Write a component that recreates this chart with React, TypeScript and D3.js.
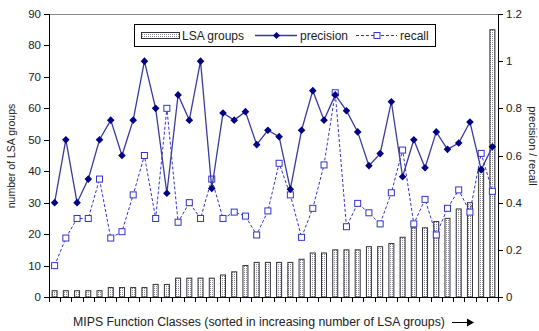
import * as d3 from "d3";

// 40 MIPS function classes, sorted by number of LSA groups
const classes = d3.range(1, 41).map((d) => "C" + d);

const lsaGroups = [2, 2, 2, 2, 2, 3, 3, 3, 3, 4, 4, 6, 6, 6, 6, 7, 8, 10, 11, 11,
  11, 11, 12, 14, 14, 15, 15, 15, 16, 16, 17, 19, 22, 22, 24, 25, 28, 30, 41, 85];

const precision = [0.4, 0.667, 0.4, 0.5, 0.667, 0.75, 0.6, 0.75, 1.0, 0.8,
  0.44, 0.857, 0.75, 1.0, 0.46, 0.78, 0.75, 0.786, 0.646, 0.707,
  0.68, 0.457, 0.707, 0.875, 0.75, 0.857, 0.79, 0.7, 0.557, 0.608,
  0.828, 0.51, 0.667, 0.548, 0.7, 0.626, 0.653, 0.742, 0.54, 0.637];

const recall = [0.133, 0.25, 0.333, 0.333, 0.5, 0.25, 0.277, 0.433, 0.6, 0.333,
  0.8, 0.317, 0.4, 0.333, 0.5, 0.333, 0.36, 0.343, 0.263, 0.365,
  0.567, 0.433, 0.253, 0.376, 0.56, 0.866, 0.298, 0.397, 0.357, 0.31,
  0.442, 0.623, 0.31, 0.414, 0.263, 0.376, 0.454, 0.36, 0.609, 0.448];

const leftTicks = [0, 10, 20, 30, 40, 50, 60, 70, 80, 90];
const rightTicks = [0, 0.2, 0.4, 0.6, 0.8, 1, 1.2];

const W = 539, H = 331;
const L = 49, R = 498, T = 14, B = 297;
const font = "Liberation Sans, Arial, sans-serif";
const navy = "#000080";
const lineCol = "#3a3aa0";
const recCol = "#3333cc";

const App = () => {
  const x = d3.scaleBand<string>().domain(classes).range([L, R]).padding(0);
  const yL = d3.scaleLinear().domain([0, 90]).range([B, T]);
  const yR = d3.scaleLinear().domain([0, 1.2]).range([B, T]);
  const cx = (i: number) => (x(classes[i]) as number) + x.bandwidth() / 2;
  const bw = 5;

  const precLine = d3.line<number>().x((d, i) => cx(i)).y((d) => yR(d))(precision) || "";
  const recLine = d3.line<number>().x((d, i) => cx(i)).y((d) => yR(d))(recall) || "";
  const diamond = (px: number, py: number, s = 3.8) =>
    `M${px},${py - s}L${px + s},${py}L${px},${py + s}L${px - s},${py}Z`;

  return (
    <svg width={W} height={H} style={{ position: "absolute", left: 0, top: 0, background: "#fff" }}
      fontFamily={font}>
      <defs>
        <pattern id="dots" width="2" height="2" patternUnits="userSpaceOnUse">
          <rect width="2" height="2" fill="#fff" />
          <rect width="1" height="1" fill="#8a8a9a" />
        </pattern>
      </defs>

      {/* plot frame top */}
      <line x1={L} x2={R} y1={T + 0.5} y2={T + 0.5} stroke="#888" />

      {/* bars */}
      {lsaGroups.map((v, i) => (
        <rect key={"b" + i} x={cx(i) - bw / 2} y={yL(v)} width={bw} height={B - yL(v)}
          fill="url(#dots)" stroke="#333" strokeWidth={1} />
      ))}

      {/* left axis */}
      <line x1={L + 0.5} x2={L + 0.5} y1={T} y2={B} stroke="#000" />
      {leftTicks.map((t) => (
        <g key={"l" + t}>
          <line x1={L - 5} x2={L} y1={Math.round(yL(t)) + 0.5} y2={Math.round(yL(t)) + 0.5} stroke="#000" />
          <text x={L - 8} y={yL(t) + 4} textAnchor="end" fontSize={11.5} fill="#222">{t}</text>
        </g>
      ))}

      {/* right axis */}
      <line x1={R + 0.5} x2={R + 0.5} y1={T} y2={B} stroke="#000" />
      {rightTicks.map((t) => (
        <g key={"r" + t}>
          <line x1={R} x2={R + 5} y1={Math.round(yR(t)) + 0.5} y2={Math.round(yR(t)) + 0.5} stroke="#000" />
          <text x={R + 8} y={yR(t) + 4} textAnchor="start" fontSize={11.5} fill="#222">{d3.format("~g")(t)}</text>
        </g>
      ))}

      {/* bottom axis */}
      <line x1={L} x2={R + 1} y1={B + 0.5} y2={B + 0.5} stroke="#000" />
      {classes.map((c, i) => (
        <line key={"t" + i} x1={Math.round(x(c) as number) + 0.5} x2={Math.round(x(c) as number) + 0.5}
          y1={B} y2={B + 5} stroke="#000" />
      ))}
      <line x1={R + 0.5} x2={R + 0.5} y1={B} y2={B + 5} stroke="#000" />

      {/* recall */}
      <path d={recLine} fill="none" stroke={recCol} strokeWidth={1} strokeDasharray="3,2" />
      {recall.map((v, i) => (
        <rect key={"r" + i} x={cx(i) - 3} y={yR(v) - 3} width={6} height={6}
          fill="#fff" stroke={recCol} strokeWidth={1} />
      ))}

      {/* precision */}
      <path d={precLine} fill="none" stroke={lineCol} strokeWidth={1.3} />
      {precision.map((v, i) => (
        <path key={"p" + i} d={diamond(cx(i), yR(v))} fill={navy} />
      ))}

      {/* axis titles */}
      <text transform="translate(15,156) rotate(-90)" textAnchor="middle" fontSize={10.5} fill="#222">
        number of LSA groups
      </text>
      <text transform="translate(529,146) rotate(90)" textAnchor="middle" fontSize={11} fill="#222">
        precision / recall
      </text>
      <text x={259} y={326} textAnchor="middle" fontSize={12.3} fill="#222">
        MIPS Function Classes (sorted in increasing number of LSA groups)
      </text>
      <line x1={452} x2={468} y1={322.5} y2={322.5} stroke="#000" />
      <path d="M467,318.5L474,322.5L467,326.5Z" fill="#000" />

      {/* legend */}
      <rect x={134.5} y={24.5} width={301} height={22} fill="#fff" stroke="#000" strokeWidth={1} />
      <rect x={141.5} y={32.5} width={38} height={6} fill="url(#dots)" stroke="#333" />
      <text x={182} y={40} fontSize={12} fill="#222">LSA groups</text>
      <line x1={255} x2={297} y1={35.5} y2={35.5} stroke={lineCol} strokeWidth={1.3} />
      <path d={diamond(276.5, 35.5, 3.5)} fill={navy} />
      <text x={300} y={40} fontSize={12} fill="#222">precision</text>
      <line x1={356} x2={397} y1={35.5} y2={35.5} stroke={recCol} strokeDasharray="3,2" />
      <rect x={374} y={32.5} width={6} height={6} fill="#fff" stroke={recCol} />
      <text x={400} y={40} fontSize={12} fill="#222">recall</text>
    </svg>
  );
};

export default App;
